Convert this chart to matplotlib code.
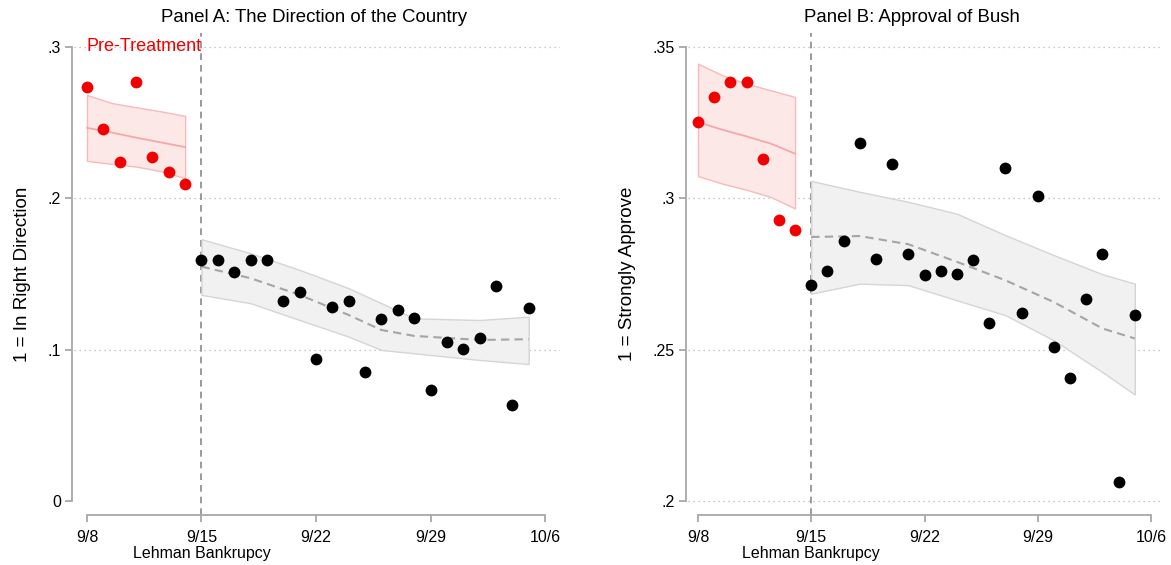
import numpy as np
import matplotlib
matplotlib.use('Agg')
import matplotlib.pyplot as plt

plt.rcParams['font.family'] = ['Liberation Sans', 'DejaVu Sans']

# days since 9/8/2008
DAYS = np.arange(28)
PRE = DAYS < 7
TICK_DAYS = [0, 7, 14, 21, 28]
TICK_LABELS = ['9/8', '9/15', '9/22', '9/29', '10/6']

# Panel A: share saying country is headed in the right direction
dir_share = [0.2736, 0.2460, 0.2240, 0.2770, 0.2274, 0.2175, 0.2095,
             0.1593, 0.1593, 0.1514, 0.1593, 0.1593, 0.1324, 0.1383,
             0.0937, 0.1282, 0.1322, 0.0853, 0.1205, 0.1260, 0.1209,
             0.0734, 0.1051, 0.1007, 0.1079, 0.1419, 0.0632, 0.1276]
dir_pre_x = [0, 1.5, 3, 4.5, 6]
dir_pre_fit = [0.2466, 0.2435, 0.2401, 0.2370, 0.2338]
dir_pre_hi = [0.2683, 0.2630, 0.2602, 0.2575, 0.2545]
dir_pre_lo = [0.2247, 0.2228, 0.2210, 0.2180, 0.2133]
dir_post_x = [7, 10, 13, 16, 18, 20, 24, 27]
dir_post_fit = [0.1549, 0.1472, 0.1362, 0.1229, 0.1130, 0.1091, 0.1064, 0.1069]
dir_post_hi = [0.1730, 0.1637, 0.1527, 0.1406, 0.1307, 0.1207, 0.1196, 0.1218]
dir_post_lo = [0.1362, 0.1307, 0.1196, 0.1086, 0.0998, 0.0976, 0.0932, 0.0905]

# Panel B: share strongly approving of Bush
bush_share = [0.3252, 0.3334, 0.3384, 0.3384, 0.3129, 0.2928, 0.2895,
              0.2714, 0.2760, 0.2860, 0.3184, 0.2799, 0.3115, 0.2818,
              0.2746, 0.2760, 0.2752, 0.2796, 0.2590, 0.3101, 0.2623,
              0.3008, 0.2510, 0.2407, 0.2668, 0.2817, 0.2064, 0.2614]
bush_pre_x = [0, 1.5, 3, 4.5, 6]
bush_pre_fit = [0.3252, 0.3227, 0.3205, 0.3181, 0.3148]
bush_pre_hi = [0.3445, 0.3407, 0.3379, 0.3357, 0.3335]
bush_pre_lo = [0.3074, 0.3049, 0.3029, 0.3005, 0.2967]
bush_post_x = [7, 10, 13, 16, 19, 22, 25, 27]
bush_post_fit = [0.2873, 0.2876, 0.2849, 0.2791, 0.2730, 0.2658, 0.2571, 0.2538]
bush_post_hi = [0.3058, 0.3022, 0.2989, 0.2950, 0.2879, 0.2813, 0.2750, 0.2719]
bush_post_lo = [0.2686, 0.2719, 0.2714, 0.2664, 0.2615, 0.2532, 0.2427, 0.2353]

W, H = 1171, 565
AXIS_GREY = '#a8a8a8'
RED = '#f20000'


def px_axes(fig, left, right, top, bottom):
    return fig.add_axes([left / W, (H - bottom) / H,
                         (right - left) / W, (bottom - top) / H])


def draw_panel(ax, share, pre, post, yticks, ylabels, gridticks, ylabel,
               xlim, ylim):
    ax.set_xlim(*xlim)
    ax.set_ylim(*ylim)
    for s in ('top', 'right'):
        ax.spines[s].set_visible(False)
    for s in ('left', 'bottom'):
        ax.spines[s].set_color(AXIS_GREY)
        ax.spines[s].set_linewidth(1.3)
    ax.spines['left'].set_bounds(yticks[0], yticks[-1])
    ax.spines['bottom'].set_bounds(0, 28)

    ax.set_yticks(yticks)
    ax.set_yticklabels(ylabels)
    ax.set_xticks(TICK_DAYS)
    ax.set_xticklabels(TICK_LABELS)
    ax.tick_params(colors=AXIS_GREY, labelcolor='black', labelsize=11.5,
                   length=5, width=1.3, pad=3)
    ax.tick_params(axis='x', pad=6)

    # dotted horizontal grid
    ax.hlines(gridticks, xlim[0] + 0.1, xlim[1], colors='#b5b5b5',
              linestyles=(0, (1, 3)), lw=0.9, zorder=1)

    # event line at the Lehman bankruptcy
    ax.axvline(7, color='#8a8a8a', ls=(0, (4, 3)), lw=1.2, zorder=2)

    px, pfit, plo, phi = pre
    ax.fill_between(px, plo, phi, facecolor='#fde8e8', edgecolor='#f7baba',
                    lw=1.0, zorder=2)
    ax.plot(px, pfit, color='#f5a8a8', lw=1.3, zorder=3)

    qx, qfit, qlo, qhi = post
    ax.fill_between(qx, qlo, qhi, facecolor='#f1f1f1', edgecolor='#d5d5d5',
                    lw=1.0, zorder=2)
    ax.plot(qx, qfit, color='#a5a5a5', lw=1.5, ls=(0, (4, 2.5)), zorder=3)

    share = np.asarray(share)
    ax.plot(DAYS[PRE], share[PRE], 'o', color=RED, ms=8.5, mew=0,
            zorder=4, clip_on=False)
    ax.plot(DAYS[~PRE], share[~PRE], 'o', color='black', ms=8.5, mew=0,
            zorder=4, clip_on=False)

    ax.set_ylabel(ylabel, fontsize=13.5, labelpad=12)
    ax.text(7, -0.08, 'Lehman Bankrupcy', transform=ax.get_xaxis_transform(),
            ha='center', va='center', fontsize=11.5)


fig = plt.figure(figsize=(W / 100, H / 100), dpi=100)

ax1 = px_axes(fig, 72, 560, 33, 515)
draw_panel(ax1, dir_share,
           (dir_pre_x, dir_pre_fit, dir_pre_lo, dir_pre_hi),
           (dir_post_x, dir_post_fit, dir_post_lo, dir_post_hi),
           [0, 0.1, 0.2, 0.3], ['0', '.1', '.2', '.3'], [0.1, 0.2, 0.3],
           '1 = In Right Direction', (-0.917, 28.917), (-0.00925, 0.30925))
ax1.text(0, 0.3, 'Pre-Treatment', color=RED, fontsize=13,
         ha='left', va='center', zorder=5)

ax2 = px_axes(fig, 686, 1162, 33, 515)
draw_panel(ax2, bush_share,
           (bush_pre_x, bush_pre_fit, bush_pre_lo, bush_pre_hi),
           (bush_post_x, bush_post_fit, bush_post_lo, bush_post_hi),
           [0.2, 0.25, 0.3, 0.35], ['.2', '.25', '.3', '.35'],
           [0.2, 0.25, 0.3, 0.35],
           '1 = Strongly Approve', (-0.742, 28.68), (0.19554, 0.35462))

fig.text(314 / W, 1 - 18 / H, 'Panel A: The Direction of the Country',
         ha='center', va='center', fontsize=13.4)
fig.text(912 / W, 1 - 18 / H, 'Panel B: Approval of Bush',
         ha='center', va='center', fontsize=13.4)

fig.savefig('out.png', dpi=100, facecolor='white')
